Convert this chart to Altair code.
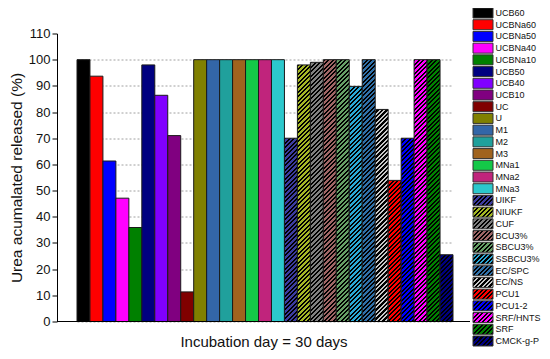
import altair as alt
import pandas as pd

names = ["UCB60", "UCBNa60", "UCBNa50", "UCBNa40", "UCBNa10", "UCB50", "UCB40", "UCB10",
         "UC", "U", "M1", "M2", "M3", "MNa1", "MNa2", "MNa3", "UIKF", "NIUKF", "CUF",
         "BCU3%", "SBCU3%", "SSBCU3%", "EC/SPC", "EC/NS", "PCU1", "PCU1-2", "SRF/HNTS",
         "SRF", "CMCK-g-P"]
values = [100, 93.7, 61.3, 47.1, 35.9, 98.0, 86.4, 71.0, 11.3, 100, 100, 100, 100, 100,
          100, 100, 70.0, 98.0, 99.0, 100, 100, 89.8, 100, 81.0, 53.9, 70.0, 100, 100, 25.5]
colors = ["#000000", "#ff0000", "#0000ff", "#ff00ff", "#008000", "#000080", "#8000ff",
          "#800080", "#800000", "#808000", "#3366a8", "#20a09c", "#a0631e", "#14c848",
          "#c0247c", "#2cc8cc", "#3c3ca0", "#a5b825", "#808080", "#a06666", "#66a066",
          "#2aa8d6", "#3070a8", "#000000", "#ff0000", "#0000ff", "#ff00ff", "#008000",
          "#000080"]
hatched = ["UIKF", "NIUKF", "CUF", "BCU3%", "SBCU3%", "SSBCU3%", "EC/SPC", "EC/NS",
           "PCU1", "PCU1-2", "SRF/HNTS", "SRF", "CMCK-g-P"]
hatch_line = {"EC/NS": "#c8c8c8"}
y_ticks = list(range(0, 111, 10))

df = pd.DataFrame({"name": names, "value": values})

W, H = 413, 288
YMAX = 110
X0, X1 = 20, 396
step = (X1 - X0) / len(names)


def hatch(base, line, w, h, period=4.5, lw=2.0):
    r = h / w
    dx = (1 + r) / (1 + r * r)
    dy = r * dx
    L = w + h
    stops = []
    s = 0.0
    while s < L:
        a = round(s / L, 5)
        b = round(min((s + lw) / L, 1), 5)
        c = round(min((s + period) / L, 1), 5)
        stops += [{"offset": a, "color": line}, {"offset": b, "color": line},
                  {"offset": b, "color": base}, {"offset": c, "color": base}]
        s += period
    return {"gradient": "linear", "x1": 0, "y1": 0, "x2": round(dx, 6), "y2": round(dy, 6),
            "stops": stops}


cmap = dict(zip(names, colors))
vmap = dict(zip(names, values))

bar_cond = []
leg_cond = []
for n in hatched:
    line = hatch_line.get(n, "#000000")
    test = "datum.name === '" + n + "'"
    bar_cond.append({"test": test, "value": hatch(cmap[n], line, step, vmap[n] * H / YMAX)})
    leg_cond.append({"test": test, "value": hatch(cmap[n], line, 20, 10)})

fill_scale = alt.Scale(domain=names, range=colors)
FONT = "Liberation Sans"

bars = alt.Chart(df).mark_bar(stroke="#1a1a1a", strokeWidth=1).encode(
    x=alt.X("name:N", sort=names,
            scale=alt.Scale(domain=names, paddingInner=0, paddingOuter=0, range=[X0, X1]),
            axis=alt.Axis(labels=False, ticks=False, domain=False,
                          title="Incubation day = 30 days", titleFontSize=15,
                          titleFontWeight="normal", titleFont=FONT, titleColor="#111",
                          titlePadding=13, titleX=W / 2)),
    y=alt.Y("value:Q", scale=alt.Scale(domain=[0, YMAX], nice=False),
            axis=alt.Axis(values=y_ticks, grid=True, gridDash=[2, 2], gridColor="#a0a0a0",
                          gridOpacity=alt.condition("datum.value > 100", alt.value(0), alt.value(1)),
                          domainColor="black", tickColor="black", tickSize=5,
                          labelFontSize=13, labelFont=FONT, labelColor="#111", labelPadding=2,
                          title="Urea acumalated released (%)", titleFontSize=15.5,
                          titleFont=FONT, titleFontWeight="normal", titleColor="#111",
                          titlePadding=4)),
    fill=alt.Fill("name:N", scale=fill_scale, legend=None, condition=bar_cond),
)

baseline = alt.Chart(df).mark_rule(color="black", strokeWidth=1).encode(
    x=alt.value(0), x2=alt.value(W), y=alt.value(H)
)

leg_y = alt.Y("name:N", sort=names,
              scale=alt.Scale(type="point", domain=names, range=[-20.5, 307.5], padding=0),
              axis=None)

leg_sym = alt.Chart(df).mark_point(
    shape="M-1,-0.5H1V0.5H-1Z", size=400, filled=True, opacity=1,
    stroke="#333333", strokeWidth=1
).encode(
    x=alt.value(426),
    y=leg_y,
    fill=alt.Fill("name:N", scale=fill_scale, legend=None, condition=leg_cond),
)

leg_txt = alt.Chart(df).mark_text(
    align="left", baseline="middle", fontSize=9.0, font=FONT, color="#111"
).encode(
    x=alt.value(438.5),
    y=leg_y,
    text="name:N",
)

chart = alt.layer(bars, baseline, leg_sym, leg_txt).resolve_scale(y="independent").properties(
    width=W, height=H,
    autosize=alt.AutoSizeParams(type="none"),
    padding={"left": 49, "top": 25.5, "right": 72, "bottom": 29.5},
).configure_view(stroke=None)

chart.save("out.html", embed_options={"renderer": "svg", "actions": False})
